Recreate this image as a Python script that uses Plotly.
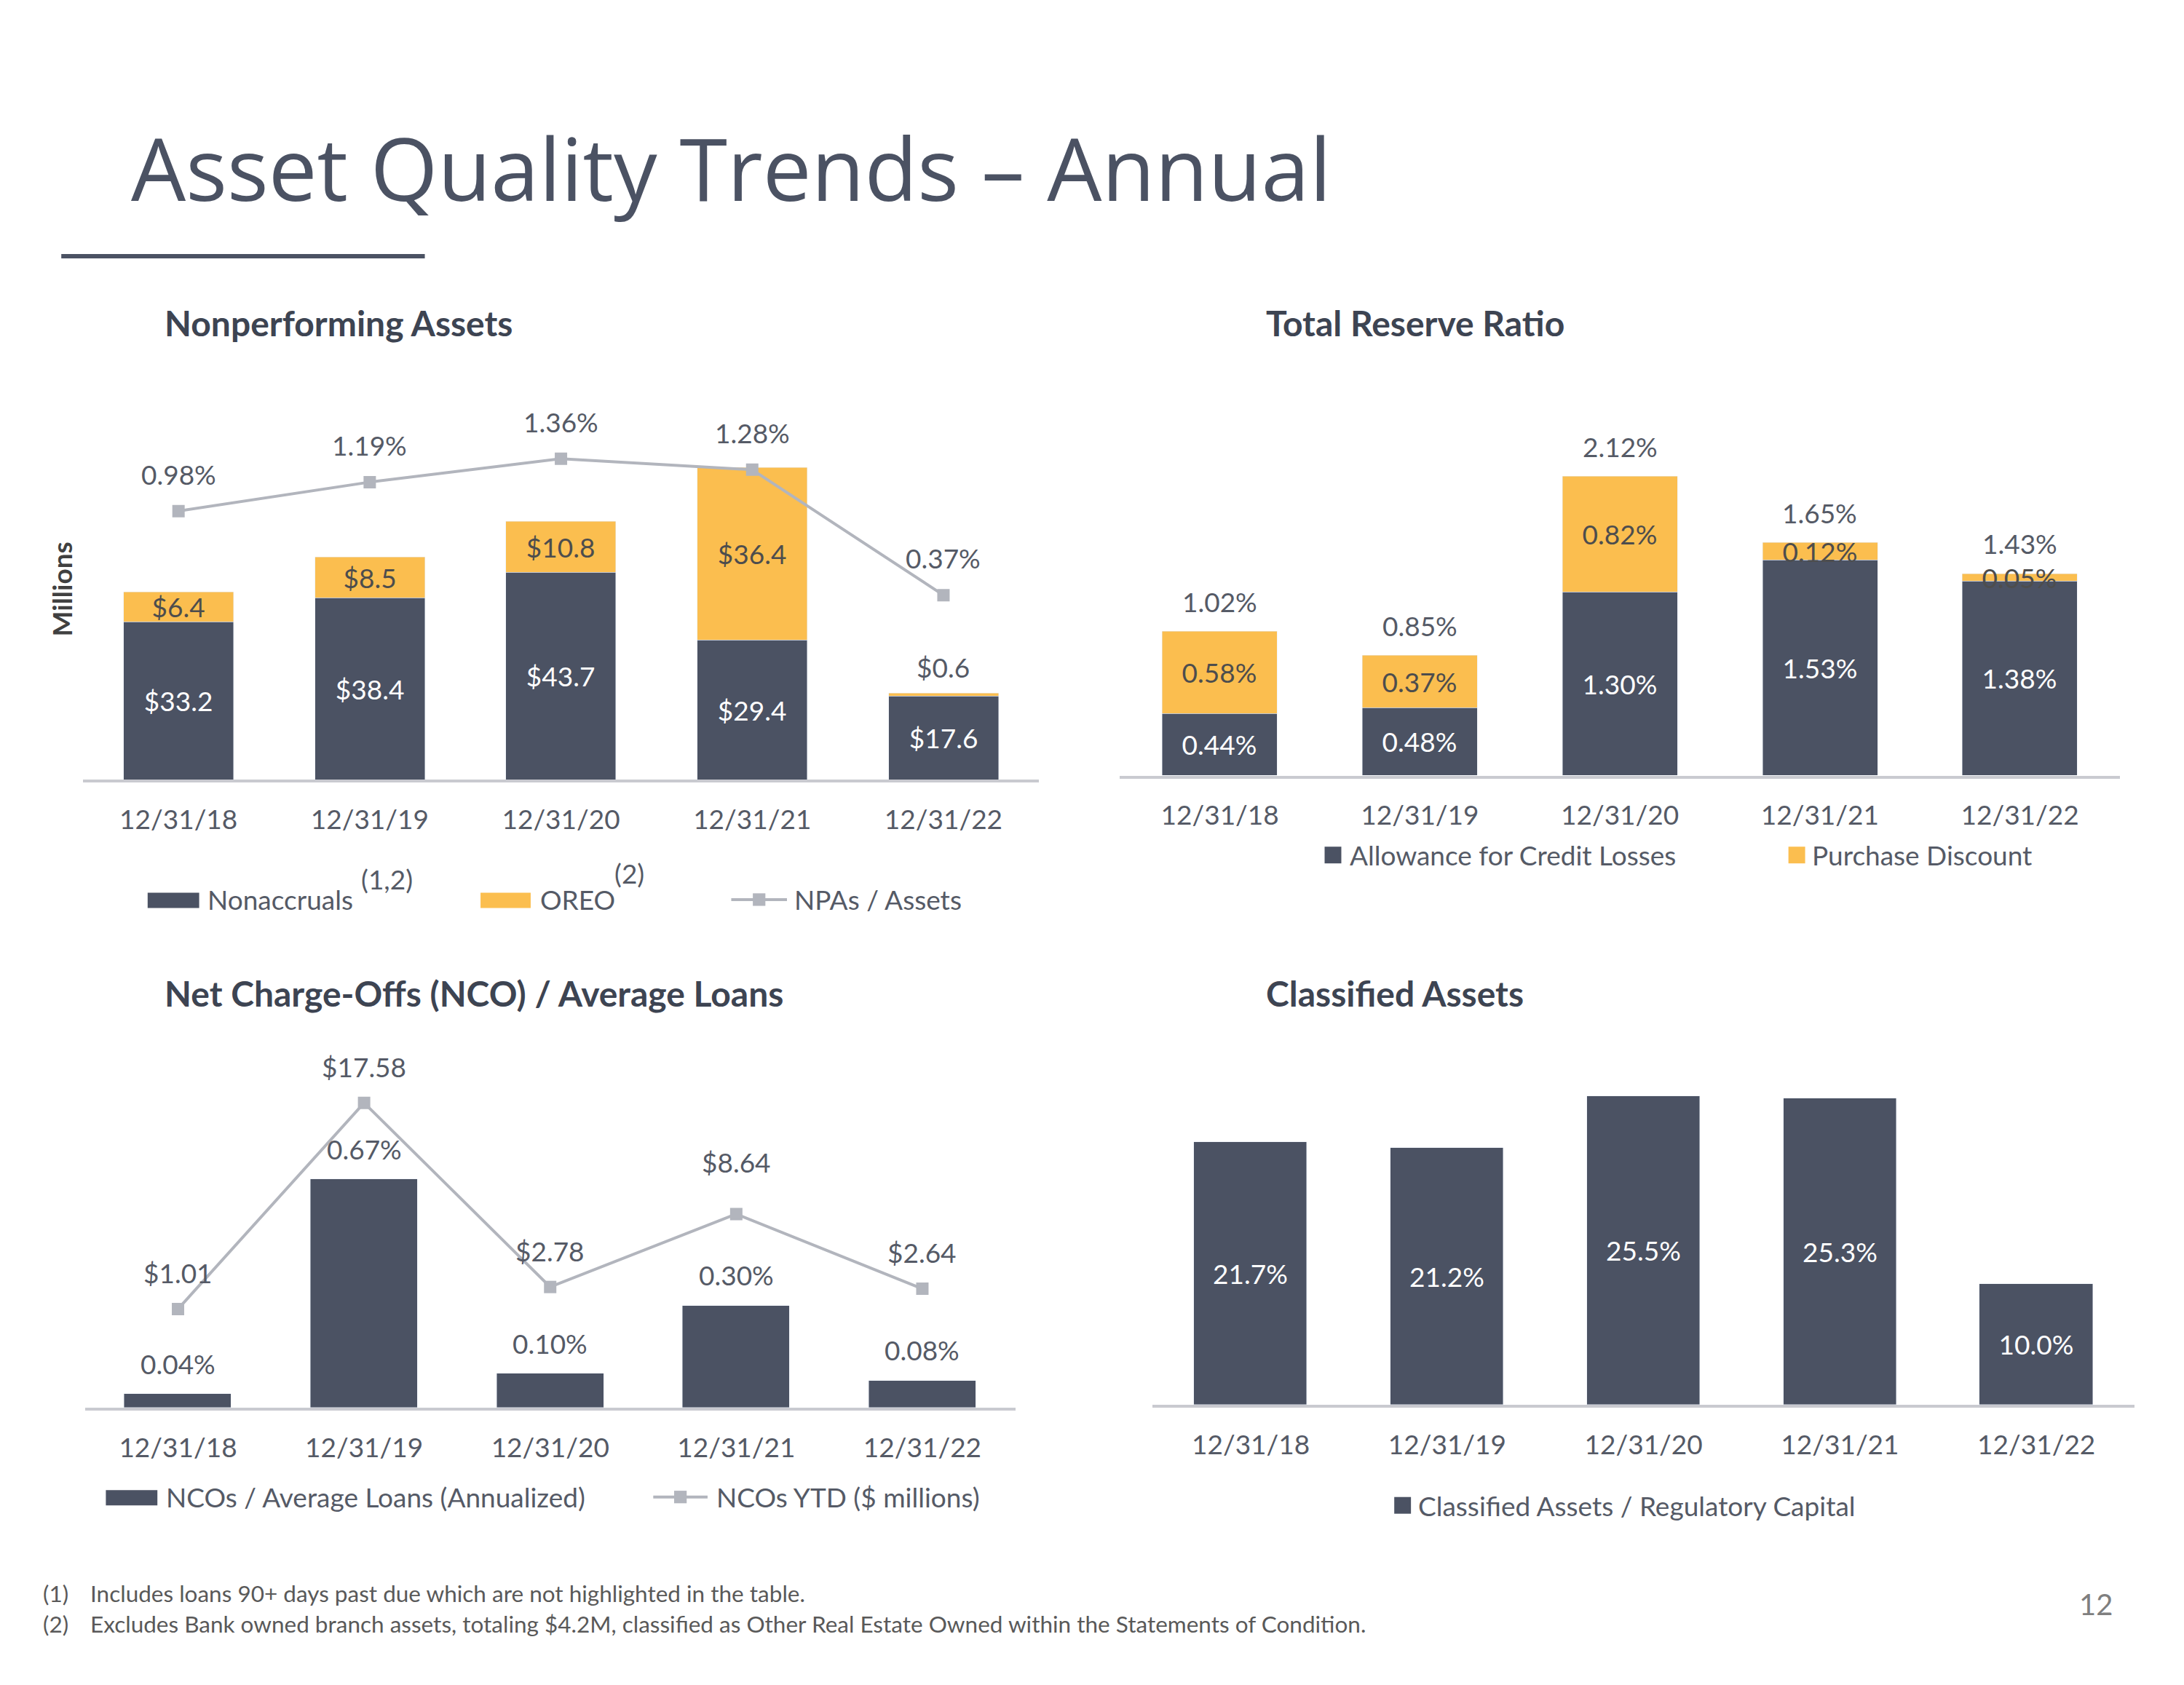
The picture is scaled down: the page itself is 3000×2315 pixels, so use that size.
import plotly.graph_objects as go

# ---------------- data ----------------
categories = ["12/31/18", "12/31/19", "12/31/20", "12/31/21", "12/31/22"]

npa_nonaccruals = [33.2, 38.4, 43.7, 29.4, 17.6]
npa_oreo = [6.4, 8.5, 10.8, 36.4, 0.6]
npa_ratio = [0.98, 1.19, 1.36, 1.28, 0.37]

reserve_acl = [0.44, 0.48, 1.30, 1.53, 1.38]
reserve_discount = [0.58, 0.37, 0.82, 0.12, 0.05]

nco_ratio = [0.04, 0.67, 0.10, 0.30, 0.08]
nco_ytd = [1.01, 17.58, 2.78, 8.64, 2.64]

classified_ratio = [21.7, 21.2, 25.5, 25.3, 10.0]

footnotes = [
    ("(1)", "Includes loans 90+ days past due which are not highlighted in the table."),
    ("(2)", "Excludes Bank owned branch assets, totaling $4.2M, classified as Other Real Estate Owned within the Statements of Condition."),
]

# ---------------- style ----------------
DARK = "#4b5263"
GOLD = "#fbbe4f"
LINE = "#b2b5bd"
AXIS = "#c9cad0"
TXT = "#555a66"
TITLE = "#3d4452"
FONT = "Lato"
FS = 37
BW = 0.575

W, H = 3000, 2315
DW, DH = 1568.0, 1210.0  # design coordinates (scaled)


def X(d):
    return d / DW


def Y(d):
    return 1 - d / DH


fig = go.Figure()

# ---------- Panel 1: Nonperforming Assets ----------
fig.add_trace(go.Bar(
    x=categories, y=npa_nonaccruals, marker_color=DARK, width=BW,
    text=[f"${v:.1f}" for v in npa_nonaccruals], textposition="inside",
    insidetextanchor="middle", textangle=0, constraintext="none",
    textfont=dict(color="white", size=FS, family=FONT),
    xaxis="x", yaxis="y", showlegend=False, hoverinfo="skip"))
oreo_text = [f"${v:.1f}" if v >= 2 else "" for v in npa_oreo]
fig.add_trace(go.Bar(
    x=categories, y=npa_oreo, marker_color=GOLD, width=BW,
    text=oreo_text, textposition="inside",
    insidetextanchor="middle", textangle=0, constraintext="none",
    textfont=dict(color="#4d4d4d", size=FS, family=FONT),
    xaxis="x", yaxis="y", showlegend=False, hoverinfo="skip"))
fig.add_trace(go.Scatter(
    x=categories, y=npa_ratio, mode="lines+markers",
    line=dict(color=LINE, width=4), marker=dict(symbol="square", size=17, color=LINE),
    xaxis="x", yaxis="y2", showlegend=False, hoverinfo="skip"))

# ---------- Panel 2: Total Reserve Ratio ----------
fig.add_trace(go.Bar(
    x=categories, y=reserve_acl, marker_color=DARK, width=BW,
    text=[f"{v:.2f}%" for v in reserve_acl], textposition="inside",
    insidetextanchor="middle", textangle=0, constraintext="none",
    textfont=dict(color="white", size=FS, family=FONT),
    xaxis="x3", yaxis="y3", showlegend=False, hoverinfo="skip"))
fig.add_trace(go.Bar(
    x=categories, y=reserve_discount, marker_color=GOLD, width=BW,
    text=[f"{v:.2f}%" for v in reserve_discount], textposition="inside",
    insidetextanchor="middle", textangle=0, constraintext="none",
    textfont=dict(color="#4d4d4d", size=FS, family=FONT),
    xaxis="x3", yaxis="y3", showlegend=False, hoverinfo="skip"))

# ---------- Panel 3: NCO ----------
fig.add_trace(go.Bar(
    x=categories, y=nco_ratio, marker_color=DARK, width=BW,
    xaxis="x5", yaxis="y5", showlegend=False, hoverinfo="skip"))
fig.add_trace(go.Scatter(
    x=categories, y=nco_ytd, mode="lines+markers",
    line=dict(color=LINE, width=4), marker=dict(symbol="square", size=17, color=LINE),
    xaxis="x5", yaxis="y6", showlegend=False, hoverinfo="skip"))

# ---------- Panel 4: Classified ----------
fig.add_trace(go.Bar(
    x=categories, y=classified_ratio, marker_color=DARK, width=BW,
    text=[f"{v:.1f}%" for v in classified_ratio], textposition="inside",
    insidetextanchor="middle", textangle=0, constraintext="none",
    textfont=dict(color="white", size=FS, family=FONT),
    xaxis="x7", yaxis="y7", showlegend=False, hoverinfo="skip"))

# ---------------- axes ----------------
def xax(d0, d1, anchor):
    return dict(domain=[X(d0), X(d1)], anchor=anchor, type="category",
                range=[-0.5, 4.5], showgrid=False, zeroline=False,
                showline=True, linecolor=AXIS, linewidth=4, ticks="",
                ticklabelstandoff=19,
                tickfont=dict(family=FONT, size=FS, color=TXT), fixedrange=True)


def yax(top, base, rng, overlay=None):
    d = dict(domain=[Y(base), Y(top)], range=rng, visible=False,
             showgrid=False, zeroline=False, fixedrange=True)
    if overlay:
        d["overlaying"] = overlay
    return d


fig.update_layout(
    xaxis=xax(59.5, 746, "y"),
    yaxis=yax(280, 560, [0, 82.23]),
    yaxis2=yax(280, 560, [-0.970, 1.859], overlay="y"),
    xaxis3=xax(804, 1522, "y3"),
    yaxis3=yax(280, 557, [0, 2.737]),
    xaxis5=xax(61, 729, "y5"),
    yaxis5=yax(760, 1011, [0, 1.0253]),
    yaxis6=yax(760, 1011, [-6.94, 21.16], overlay="y5"),
    xaxis7=xax(827.5, 1532.5, "y7"),
    yaxis7=yax(760, 1009, [0, 28.6]),
    barmode="stack",
    bargap=0,
    width=W, height=H,
    margin=dict(l=0, r=0, t=0, b=0),
    paper_bgcolor="white", plot_bgcolor="rgba(0,0,0,0)",
    font=dict(family=FONT, color=TXT),
)

ann = []
shapes = []


def label(xref, yref, x, y, text, shift, color=TXT, size=FS):
    ann.append(dict(xref=xref, yref=yref, x=x, y=y, text=text, showarrow=False,
                    yshift=shift, yanchor="middle", xanchor="center",
                    font=dict(family=FONT, size=size, color=color)))


# Panel 1 labels
for c, v in zip(categories, npa_ratio):
    label("x", "y2", c, v, f"{v:.2f}%", 51)
for c, a, b in zip(categories, npa_nonaccruals, npa_oreo):
    if b < 2:
        label("x", "y", c, a + b, f"${b:.1f}", 36)

# Panel 2 totals
for c, a, b in zip(categories, reserve_acl, reserve_discount):
    label("x3", "y3", c, a + b, f"{a + b:.2f}%", 42)

# Panel 3 labels
nco_line_shift = [50, 50, 50, 72, 50]
for c, v, s in zip(categories, nco_ytd, nco_line_shift):
    label("x5", "y6", c, v, f"${v:.2f}", s)
for c, v in zip(categories, nco_ratio):
    label("x5", "y5", c, v, f"{v:.2f}%", 42)


def text_at(x, y, text, size=FS, color=TXT, xanchor="left", bold=False, family=FONT, angle=0):
    ann.append(dict(xref="paper", yref="paper", x=X(x), y=Y(y), text=f"<b>{text}</b>" if bold else text,
                    showarrow=False, xanchor=xanchor, yanchor="middle", textangle=angle,
                    font=dict(family=family, size=size, color=color)))


def rect(x0, y0, x1, y1, color):
    shapes.append(dict(type="rect", xref="paper", yref="paper", x0=X(x0), x1=X(x1),
                       y0=Y(y1), y1=Y(y0), fillcolor=color, line=dict(width=0)))


def line_legend(x0, x1, y):
    shapes.append(dict(type="line", xref="paper", yref="paper", x0=X(x0), x1=X(x1),
                       y0=Y(y), y1=Y(y), line=dict(color=LINE, width=4)))
    xm = (x0 + x1) / 2
    rect(xm - 4.5, y - 4.5, xm + 4.5, y + 4.5, LINE)


# Main title + underline
text_at(93, 120, "Asset Quality Trends – Annual", size=119, color="#4b5263", family="Open Sans")
shapes.append(dict(type="line", xref="paper", yref="paper", x0=X(44), x1=X(305),
                   y0=Y(184), y1=Y(184), line=dict(color="#4b5263", width=6)))

# Panel titles
text_at(117, 232, "Nonperforming Assets", size=48, color=TITLE, bold=True)
text_at(908, 232, "Total Reserve Ratio", size=48, color=TITLE, bold=True)
text_at(117, 713, "Net Charge-Offs (NCO) / Average Loans", size=48, color=TITLE, bold=True)
text_at(908, 713, "Classified Assets", size=48, color=TITLE, bold=True)

# Millions
text_at(44, 423, "Millions", size=37, color="#404040", xanchor="center", bold=True, angle=-90)

# Legends panel 1
rect(106, 641, 143, 652, DARK)
text_at(148, 646, "Nonaccruals")
text_at(258, 631, "(1,2)", size=37)
rect(345, 641, 381, 652, GOLD)
text_at(387, 646, "OREO")
text_at(440, 627, "(2)", size=37)
line_legend(525, 565, 646)
text_at(569, 646, "NPAs / Assets")

# Legend panel 2
rect(951, 608, 963, 620, DARK)
text_at(968, 614, "Allowance for Credit Losses")
rect(1284, 608, 1296, 620, GOLD)
text_at(1300, 614, "Purchase Discount")

# Legend panel 3
rect(76, 1070, 113, 1081, DARK)
text_at(118, 1075, "NCOs / Average Loans (Annualized)")
line_legend(469, 508, 1075)
text_at(513, 1075, "NCOs YTD ($ millions)")

# Legend panel 4
rect(1001, 1075, 1013, 1087, DARK)
text_at(1017, 1081, "Classified Assets / Regulatory Capital")

# Footnotes
for i, (num, txt) in enumerate(footnotes):
    yy = 1144 + 22 * i
    text_at(30, yy, num, size=31.5, color="#595959")
    text_at(64, yy, txt, size=31.5, color="#595959")

# Page number
text_at(1505, 1152, "12", size=40, color="#7f7f7f", xanchor="center")

fig.update_layout(annotations=ann, shapes=shapes)

fig.write_html("out.html")
